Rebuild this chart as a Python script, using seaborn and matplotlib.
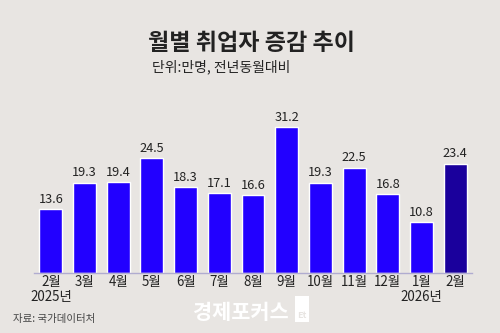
import matplotlib
matplotlib.use("Agg")
import matplotlib.pyplot as plt
import seaborn as sns
import pandas as pd
from matplotlib.patches import Rectangle

# Monthly change in employed persons (10k people, year-on-year)
months = ["2월\n2025년", "3월", "4월", "5월", "6월", "7월", "8월", "9월",
          "10월", "11월", "12월", "1월\n2026년", "2월"]
values = [13.6, 19.3, 19.4, 24.5, 18.3, 17.1, 16.6, 31.2, 19.3, 22.5, 16.8, 10.8, 23.4]
highlight = [False] * 12 + [True]

title = "월별 취업자 증감 추이"
subtitle = "단위:만명, 전년동월대비"
source = "자료: 국가데이터처"
brand = "경제포커스"

BG = "#E8E5E2"
BLUE = "#2200FF"
NAVY = "#1A009C"

sns.set_theme(style="white")
plt.rcParams["font.family"] = ["Noto Sans CJK KR", "DejaVu Sans"]

df = pd.DataFrame({"month": months, "value": values,
                   "kind": ["latest" if h else "past" for h in highlight]})

fig = plt.figure(figsize=(5.0, 3.33), dpi=100, facecolor=BG)
ax = fig.add_axes([0.068, 0.1802, 0.876, 0.5195])
ax.set_facecolor(BG)

sns.barplot(data=df, x="month", y="value", hue="kind",
            palette={"past": BLUE, "latest": NAVY}, width=0.68,
            dodge=False, legend=False, ax=ax, saturation=1)

for cont in ax.containers:
    ax.bar_label(cont, fmt="%.1f", padding=2.5, fontsize=9.2, color="#222222")

ax.set_xlim(-0.5, 12.5)
ax.set_ylim(0, 37)
ax.set_xlabel("")
ax.set_ylabel("")
ax.set_yticks([])
for s in ["top", "right", "left"]:
    ax.spines[s].set_visible(False)
ax.spines["bottom"].set_color("#B0ACD0")
ax.spines["bottom"].set_linewidth(1.0)
ax.tick_params(axis="x", length=0, pad=1.5, labelsize=9.6, labelcolor="#222222")
for t in ax.get_xticklabels():
    t.set_linespacing(1.1)

fig.text(0.502, 0.868, title, ha="center", va="center", fontsize=16.6,
         fontweight="bold", color="#222222")
fig.text(0.304, 0.799, subtitle, ha="left", va="center", fontsize=10,
         color="#222222")
fig.text(0.026, 0.042, source, ha="left", va="center", fontsize=7.5,
         color="#444444")

# brand watermark
fig.text(0.482, 0.062, brand, ha="center", va="center", fontsize=15,
         fontweight="bold", color="white")
fig.patches.append(Rectangle((0.59, 0.033), 0.028, 0.078, transform=fig.transFigure,
                             facecolor="white", edgecolor="none"))
fig.text(0.604, 0.052, "Et", ha="center", va="center", fontsize=6.5,
         fontweight="bold", color=BG)

fig.savefig("out.png", dpi=100, facecolor=BG)
